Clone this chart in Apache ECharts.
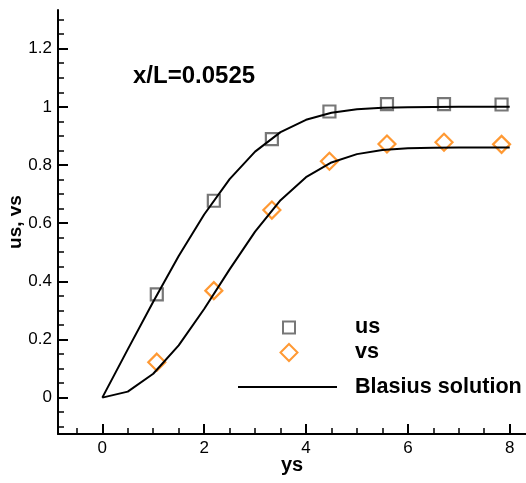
<!DOCTYPE html>
<html>
<head>
<meta charset="utf-8">
<title>x/L=0.0525</title>
<script src="https://cdn.jsdelivr.net/npm/echarts@6.0.0/dist/echarts.min.js"></script>
<style>
  html, body { margin: 0; padding: 0; background: #fff; }
  #chart { width: 526px; height: 483px; }
</style>
</head>
<body>
<div id="chart"></div>
<script>
// B data
// Blasius curve points (eta step 0.5)
var etaPts = [0, 0.5, 1, 1.5, 2, 2.5, 3, 3.5, 4, 4.5, 5, 5.5, 6, 6.5, 7, 7.5, 8]
var uBlasius = [0, 0.1659, 0.3298, 0.4868, 0.6298, 0.7513, 0.8461, 0.9131, 0.9555, 0.9795, 0.9916, 0.9969, 0.9990, 0.9997, 0.9999, 1.0, 1.0]
var vBlasius = [0, 0.0207, 0.0821, 0.1800, 0.3048, 0.4410, 0.5708, 0.6791, 0.7582, 0.8088, 0.8374, 0.8512, 0.8572, 0.8594, 0.8601, 0.8604, 0.8604]

// computed points
var ysPts = [1.07, 2.19, 3.33, 4.46, 5.59, 6.71, 7.84]
var usVals = [0.355, 0.677, 0.889, 0.984, 1.009, 1.009, 1.008]
var vsVals = [0.122, 0.368, 0.645, 0.813, 0.872, 0.878, 0.871]

// ticks
var xMajor = [0, 2, 4, 6, 8]
var xMinor = [-0.5, 0.5, 1, 1.5, 2.5, 3, 3.5, 4.5, 5, 5.5, 6.5, 7, 7.5]
var yMajor = [0, 0.2, 0.4, 0.6, 0.8, 1, 1.2]
var yMinor = [-0.1, -0.05, 0.05, 0.1, 0.15, 0.25, 0.3, 0.35, 0.45, 0.5, 0.55, 0.65, 0.7, 0.75, 0.85, 0.9, 0.95, 1.05, 1.1, 1.15, 1.25, 1.3]
// E data

function zip (xs, ys) {
  var out = []
  for (var i = 0; i < xs.length; i++) {
    out.push([xs[i], ys[i]])
  }
  return out
}

var FONT = 'Liberation Sans'
var xMin = -0.87, xMax = 8.32
var yMin = -0.125, yMax = 1.333

function legendText (lh, padLeft) {
  return { fontFamily: FONT, fontSize: 21.6, fontWeight: 'bold', color: '#000', lineHeight: lh, padding: [0, 0, 0, padLeft] }
}

var myChart = echarts.init(document.getElementById('chart'), null, { renderer: 'canvas' })

var option = {
  animation: false,
  backgroundColor: '#fff',
  title: {
    text: 'x/L=0.0525',
    left: 133,
    top: 64,
    padding: 0,
    textStyle: { fontFamily: FONT, fontSize: 24, fontWeight: 'bold', color: '#000', lineHeight: 24 }
  },
  grid: { left: 58, right: 0, top: 10, bottom: 49, containLabel: false, outerBoundsMode: 'none' },
  legend: [
    {
      data: ['us'], left: 282, top: 316.5, padding: 0, selectedMode: false,
      itemWidth: 12, itemHeight: 12,
      textStyle: legendText(12, 55)
    },
    {
      data: ['vs'], left: 279.5, top: 341.5, padding: 0, selectedMode: false,
      itemWidth: 17, itemHeight: 17,
      textStyle: legendText(17, 52.5)
    },
    {
      data: [{ name: 'Blasius solution', icon: 'rect' }], left: 238, top: 376, padding: 0, selectedMode: false,
      itemWidth: 99, itemHeight: 2,
      textStyle: legendText(2, 13)
    }
  ],
  xAxis: [
    {
      type: 'value', min: xMin, max: xMax,
      name: 'ys', nameLocation: 'middle', nameGap: 21, nameMoveOverlap: false,
      nameTextStyle: { fontFamily: FONT, fontSize: 20, fontWeight: 'bold', color: '#000' },
      axisLine: { onZero: false, lineStyle: { color: '#000', width: 2 } },
      axisTick: { inside: true, length: 10, customValues: xMajor, lineStyle: { color: '#000', width: 2 } },
      axisLabel: { customValues: xMajor, margin: 6, fontFamily: FONT, fontSize: 17, color: '#000' },
      splitLine: { show: false }
    },
    {
      type: 'value', min: xMin, max: xMax, position: 'bottom',
      axisLine: { show: false, onZero: false },
      axisTick: { inside: true, length: 6, customValues: xMinor, lineStyle: { color: '#000', width: 1.5 } },
      axisLabel: { show: false },
      splitLine: { show: false }
    }
  ],
  yAxis: [
    {
      type: 'value', min: yMin, max: yMax,
      name: 'us, vs', nameLocation: 'middle', nameGap: 33, nameRotate: 90, nameMoveOverlap: false,
      nameTextStyle: { fontFamily: FONT, fontSize: 19, fontWeight: 'bold', color: '#000' },
      axisLine: { onZero: false, lineStyle: { color: '#000', width: 2 } },
      axisTick: { inside: true, length: 10, customValues: yMajor, lineStyle: { color: '#000', width: 2 } },
      axisLabel: { customValues: yMajor, margin: 6, fontFamily: FONT, fontSize: 17, color: '#000' },
      splitLine: { show: false }
    },
    {
      type: 'value', min: yMin, max: yMax, position: 'left',
      axisLine: { show: false, onZero: false },
      axisTick: { inside: true, length: 6, customValues: yMinor, lineStyle: { color: '#000', width: 1.5 } },
      axisLabel: { show: false },
      splitLine: { show: false }
    }
  ],
  series: [
    {
      name: 'us', type: 'scatter', symbol: 'rect', symbolSize: 12,
      itemStyle: { color: 'rgba(255,255,255,0)', borderColor: '#555', borderWidth: 2.2 },
      data: zip(ysPts, usVals)
    },
    {
      name: 'vs', type: 'scatter', symbol: 'diamond', symbolSize: 17,
      itemStyle: { color: 'rgba(255,255,255,0)', borderColor: '#ff8000', borderWidth: 2.2 },
      data: zip(ysPts, vsVals)
    },
    {
      name: 'Blasius solution', type: 'line', symbol: 'none', smooth: false,
      lineStyle: { color: '#000', width: 2 }, itemStyle: { color: '#000' },
      data: zip(etaPts, uBlasius)
    },
    {
      name: 'Blasius solution', type: 'line', symbol: 'none', smooth: false,
      lineStyle: { color: '#000', width: 2 }, itemStyle: { color: '#000' },
      data: zip(etaPts, vBlasius)
    }
  ]
}

myChart.setOption(option)
</script>
</body>
</html>
